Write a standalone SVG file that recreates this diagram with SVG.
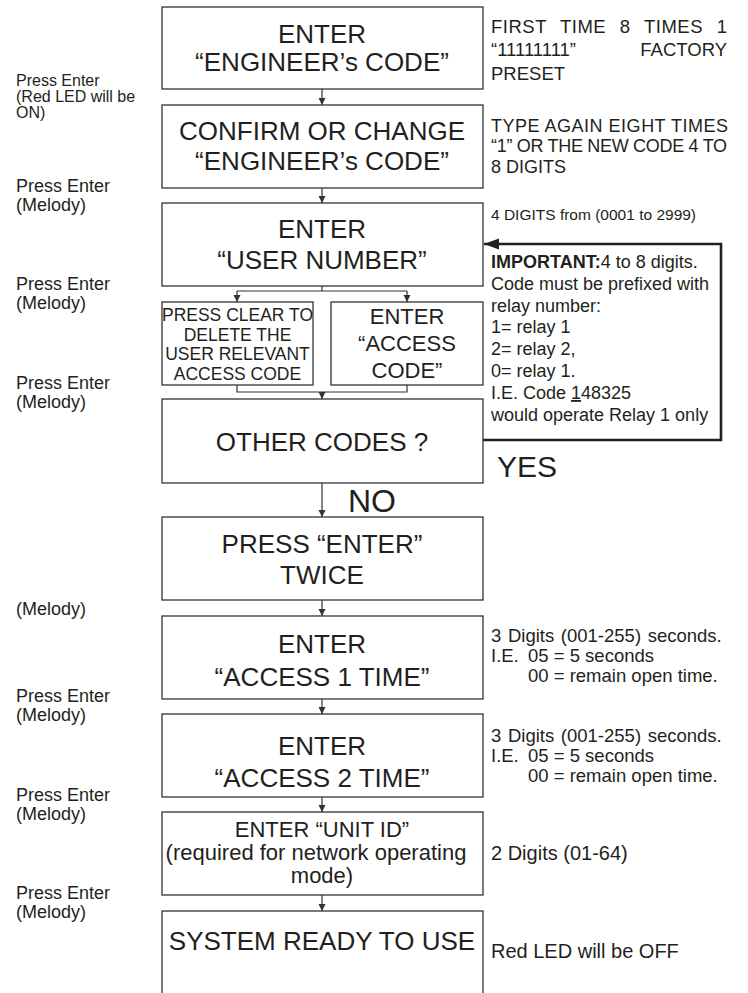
<svg xmlns="http://www.w3.org/2000/svg" width="748" height="993" viewBox="0 0 748 993">
<defs>
<style>
text{font-family:"Liberation Sans",Arial,Helvetica,sans-serif;fill:#231f20}
.box{fill:#fff;stroke:#333;stroke-width:1.3}
.c{fill:none;stroke:#333;stroke-width:1.2}
.loop{fill:none;stroke:#231f20;stroke-width:2.6}
.big{font-size:26px;text-anchor:middle}
.mid{font-size:22px;text-anchor:middle}
.sub{font-size:17.5px;text-anchor:middle}
.lbl{font-size:18px}
.lbs{font-size:16px}
.note{font-size:18.5px}
.n18{font-size:18px}
</style>
<marker id="ar" markerUnits="userSpaceOnUse" markerWidth="8" markerHeight="8" refX="7" refY="3.5" orient="auto"><path d="M0,0 L7,3.5 L0,7 Z" fill="#333"/></marker>
<marker id="arb" markerUnits="userSpaceOnUse" markerWidth="16" markerHeight="12" refX="15" refY="5.5" orient="auto"><path d="M0,0 L15,5.5 L0,11 Z" fill="#231f20"/></marker>
</defs>

<g id="connectors">
<path class="c" d="M322,89 V105" marker-end="url(#ar)"/>
<path class="c" d="M322,188 V203" marker-end="url(#ar)"/>
<path class="c" d="M322,286 V291 M237,291 H407"/>
<path class="c" d="M237,291 V302" marker-end="url(#ar)"/>
<path class="c" d="M407,291 V302" marker-end="url(#ar)"/>
<path class="c" d="M237,385 V392 H407 V385"/>
<path class="c" d="M322,392 V399" marker-end="url(#ar)"/>
<path class="c" d="M322,483 V517" marker-end="url(#ar)"/>
<path class="c" d="M322,600 V616" marker-end="url(#ar)"/>
<path class="c" d="M322,699 V714" marker-end="url(#ar)"/>
<path class="c" d="M322,797 V812" marker-end="url(#ar)"/>
<path class="c" d="M322,895 V911" marker-end="url(#ar)"/>
<path class="loop" d="M483,440 H721 V244 H484" marker-end="url(#arb)"/>
</g>

<g id="n1">
<rect class="box" x="162" y="7" width="321" height="82"/>
<text class="big" x="322" y="43">ENTER</text>
<text class="big" x="322" y="71">“ENGINEER’s CODE”</text>
</g>
<g id="n2">
<rect class="box" x="162" y="105" width="321" height="83"/>
<text class="big" x="322" y="140">CONFIRM OR CHANGE</text>
<text class="big" x="322" y="170">“ENGINEER’s CODE”</text>
</g>
<g id="n3">
<rect class="box" x="162" y="203" width="321" height="83"/>
<text class="big" x="322" y="238">ENTER</text>
<text class="big" x="322" y="269">“USER NUMBER”</text>
</g>
<g id="n3a">
<rect class="box" x="162" y="302" width="151" height="83"/>
<text class="sub" x="237.5" y="321">PRESS CLEAR TO</text>
<text class="sub" x="237.5" y="340.5">DELETE THE</text>
<text class="sub" x="237.5" y="360">USER RELEVANT</text>
<text class="sub" x="237.5" y="379.5">ACCESS CODE</text>
</g>
<g id="n3b">
<rect class="box" x="331" y="302" width="152" height="83"/>
<text class="mid" x="407" y="324">ENTER</text>
<text class="mid" x="407" y="351">“ACCESS</text>
<text class="mid" x="407" y="378">CODE”</text>
</g>
<g id="n4">
<rect class="box" x="162" y="399" width="321" height="84"/>
<text class="big" x="322" y="451">OTHER CODES ?</text>
</g>
<g id="n5">
<rect class="box" x="162" y="517" width="321" height="83"/>
<text class="big" x="322" y="553">PRESS “ENTER”</text>
<text class="big" x="322" y="584">TWICE</text>
</g>
<g id="n6">
<rect class="box" x="162" y="616" width="321" height="83"/>
<text class="big" x="322" y="653">ENTER</text>
<text class="big" x="322" y="686">“ACCESS 1 TIME”</text>
</g>
<g id="n7">
<rect class="box" x="162" y="714" width="321" height="83"/>
<text class="big" x="322" y="755">ENTER</text>
<text class="big" x="322" y="787">“ACCESS 2 TIME”</text>
</g>
<g id="n8">
<rect class="box" x="162" y="812" width="321" height="83"/>
<text class="mid" x="322" y="837">ENTER “UNIT ID”</text>
<text class="mid" x="316" y="860">(required for network operating</text>
<text class="mid" x="322" y="883">mode)</text>
</g>
<g id="n9">
<rect class="box" x="162" y="911" width="321" height="100"/>
<text class="big" x="322" y="950">SYSTEM READY TO USE</text>
</g>

<g id="decisions">
<text x="497" y="477" style="font-size:30px">YES</text>
<text x="348" y="512" style="font-size:32px">NO</text>
</g>

<g id="left-labels">
<text class="lbs" x="16" y="86">Press Enter</text>
<text class="lbs" x="16" y="102">(Red LED will be</text>
<text class="lbs" x="16" y="118">ON)</text>
<text class="lbl" x="16" y="191.5">Press Enter</text>
<text class="lbl" x="16" y="210.5">(Melody)</text>
<text class="lbl" x="16" y="289.5">Press Enter</text>
<text class="lbl" x="16" y="308.5">(Melody)</text>
<text class="lbl" x="16" y="388.5">Press Enter</text>
<text class="lbl" x="16" y="407.5">(Melody)</text>
<text class="lbl" x="16" y="615">(Melody)</text>
<text class="lbl" x="16" y="701.5">Press Enter</text>
<text class="lbl" x="16" y="720.5">(Melody)</text>
<text class="lbl" x="16" y="800.5">Press Enter</text>
<text class="lbl" x="16" y="819.5">(Melody)</text>
<text class="lbl" x="16" y="898.5">Press Enter</text>
<text class="lbl" x="16" y="917.5">(Melody)</text>
</g>

<g id="right-notes">
<text class="note" x="491" y="33" textLength="236" lengthAdjust="spacing" style="word-spacing:8px">FIRST TIME 8 TIMES 1</text>
<text class="note" x="491" y="56">“11111111”</text>
<text class="note" x="727" y="56" text-anchor="end">FACTORY</text>
<text class="note" x="491" y="80">PRESET</text>

<text class="n18" x="491" y="132" textLength="237" lengthAdjust="spacing">TYPE AGAIN EIGHT TIMES</text>
<text class="n18" x="491" y="152" textLength="236" lengthAdjust="spacing">“1” OR THE NEW CODE 4 TO</text>
<text class="n18" x="491" y="173">8 DIGITS</text>

<text x="491" y="220" style="font-size:15.5px">4 DIGITS from (0001 to 2999)</text>

<text class="n18" x="491" y="268"><tspan font-weight="bold">IMPORTANT:</tspan>4 to 8 digits.</text>
<text class="n18" x="491" y="290">Code must be prefixed with</text>
<text class="n18" x="491" y="311.5">relay number:</text>
<text class="n18" x="491" y="333">1= relay 1</text>
<text class="n18" x="491" y="355">2= relay 2,</text>
<text class="n18" x="491" y="377">0= relay 1.</text>
<text class="n18" x="491" y="399">I.E. Code <tspan text-decoration="underline">1</tspan>48325</text>
<text class="n18" x="491" y="421">would operate Relay 1 only</text>

<text class="note" x="491" y="642" style="word-spacing:1.5px">3 Digits (001-255) seconds.</text>
<text class="note" x="491" y="662">I.E.</text>
<text class="note" x="528" y="662">05 = 5 seconds</text>
<text class="note" x="528" y="682">00 = remain open time.</text>

<text class="note" x="491" y="742" style="word-spacing:1.5px">3 Digits (001-255) seconds.</text>
<text class="note" x="491" y="762">I.E.</text>
<text class="note" x="528" y="762">05 = 5 seconds</text>
<text class="note" x="528" y="782">00 = remain open time.</text>

<text x="491" y="860" style="font-size:20px">2 Digits (01-64)</text>
<text x="491" y="958" style="font-size:20px">Red LED will be OFF</text>
</g>
</svg>
